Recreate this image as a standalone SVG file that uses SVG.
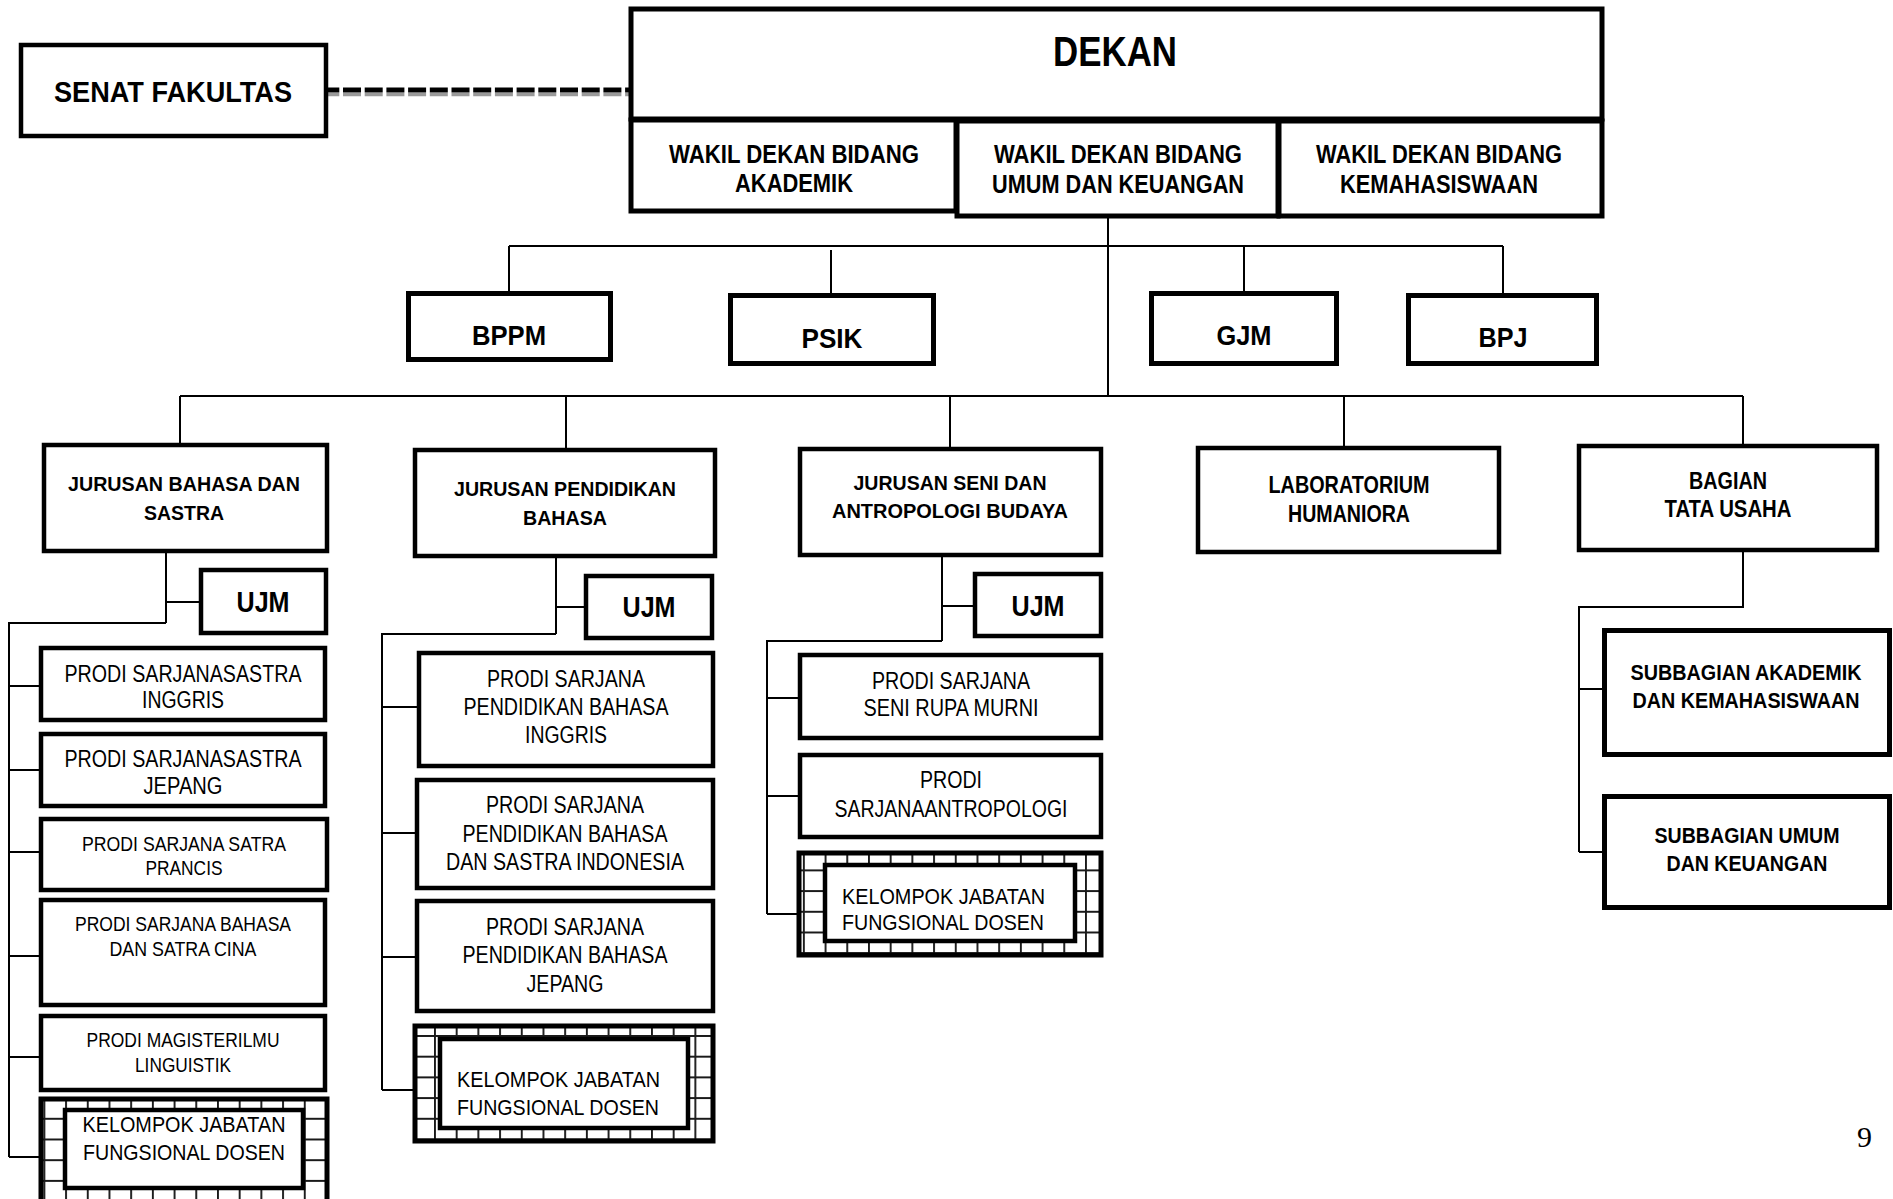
<svg xmlns="http://www.w3.org/2000/svg" width="1893" height="1199" viewBox="0 0 1893 1199">
<style>
.box{fill:#fff;stroke:#000;stroke-width:4.5}
.bx5{fill:#fff;stroke:#000;stroke-width:5}
.grid{fill:url(#grid);stroke:#000;stroke-width:5}
.ln{fill:none;stroke:#000;stroke-width:2}
text{font-family:"Liberation Sans",Arial,sans-serif;fill:#000}
.b{font-weight:bold;text-anchor:middle}
.r{font-weight:normal;text-anchor:middle}
.s{font-weight:normal;text-anchor:start}
</style>
<defs>
<pattern id="grid" patternUnits="userSpaceOnUse" width="21.7" height="20.7">
<rect width="21.7" height="20.7" fill="#fff"/>
<path d="M0 0.9H21.7M0.9 0V20.7" stroke="#1a1a1a" stroke-width="2"/>
</pattern>
</defs>
<rect width="1893" height="1199" fill="#fff"/>

<g id="connectors">
<line x1="328" y1="94.5" x2="629" y2="94.5" stroke="#9a9a9a" stroke-width="3.5" stroke-dasharray="18 3.7" stroke-dashoffset="-15"/>
<line x1="328" y1="90" x2="629" y2="90" stroke="#000" stroke-width="5" stroke-dasharray="18 3.7" stroke-dashoffset="-15"/>
<path class="ln" d="M1108 218V396M509 246H1503M509 246V293M831 250V295M1244 246V293M1503 246V295"/>
<path class="ln" d="M180 396H1743M180 396V443M566 396V448M950 396V447M1344 396V446M1743 396V463"/>
<path class="ln" d="M166 553V623M166 602H199M166 623H9V1157M9 686H39M9 770H39M9 852H39M9 956H39M9 1057H39M9 1157H39"/>
<path class="ln" d="M556 558V634M556 607H584M556 634H382V1090M382 707H417M382 833H415M382 957H415M382 1090H413"/>
<path class="ln" d="M942 550V641M942 606H973M942 641H767V914M767 698H798M767 796H798M767 914H797"/>
<path class="ln" d="M1743 552V607H1579V852M1579 689H1602M1579 852H1602"/>
</g>

<g id="senat"><rect class="box" x="21" y="45" width="305" height="91"/>
<text class="b" x="173" y="102" font-size="30" textLength="238" lengthAdjust="spacingAndGlyphs">SENAT FAKULTAS</text></g>

<g id="dekan"><rect class="bx5" x="631" y="9" width="971" height="110"/>
<text class="b" x="1115" y="66" font-size="42" textLength="124" lengthAdjust="spacingAndGlyphs">DEKAN</text></g>

<g id="wd1"><rect class="bx5" x="631" y="120" width="325" height="91"/>
<text class="b" x="794" y="163" font-size="25" textLength="250" lengthAdjust="spacingAndGlyphs">WAKIL DEKAN BIDANG</text>
<text class="b" x="794" y="192" font-size="25" textLength="118" lengthAdjust="spacingAndGlyphs">AKADEMIK</text></g>
<g id="wd2"><rect class="bx5" x="957" y="121" width="321" height="95"/>
<text class="b" x="1118" y="163" font-size="25" textLength="248" lengthAdjust="spacingAndGlyphs">WAKIL DEKAN BIDANG</text>
<text class="b" x="1118" y="193" font-size="25" textLength="252" lengthAdjust="spacingAndGlyphs">UMUM DAN KEUANGAN</text></g>
<g id="wd3"><rect class="bx5" x="1279" y="121" width="323" height="95"/>
<text class="b" x="1439" y="163" font-size="25" textLength="246" lengthAdjust="spacingAndGlyphs">WAKIL DEKAN BIDANG</text>
<text class="b" x="1439" y="193" font-size="25" textLength="198" lengthAdjust="spacingAndGlyphs">KEMAHASISWAAN</text></g>

<g id="bppm"><rect class="bx5" x="408.5" y="293.5" width="202" height="66"/>
<text class="b" x="509" y="345" font-size="28" textLength="74" lengthAdjust="spacingAndGlyphs">BPPM</text></g>
<g id="psik"><rect class="bx5" x="730.5" y="295.5" width="203" height="68"/>
<text class="b" x="832" y="348" font-size="28" textLength="61" lengthAdjust="spacingAndGlyphs">PSIK</text></g>
<g id="gjm"><rect class="bx5" x="1151.5" y="293.5" width="185" height="70"/>
<text class="b" x="1244" y="345" font-size="28" textLength="55" lengthAdjust="spacingAndGlyphs">GJM</text></g>
<g id="bpj"><rect class="bx5" x="1408.5" y="295.5" width="188" height="68"/>
<text class="b" x="1503" y="347" font-size="28" textLength="49" lengthAdjust="spacingAndGlyphs">BPJ</text></g>

<g id="jurusan1"><rect class="box" x="44" y="445" width="283" height="106"/>
<text class="b" x="184" y="491" font-size="21" textLength="232" lengthAdjust="spacingAndGlyphs">JURUSAN BAHASA DAN</text>
<text class="b" x="184" y="520" font-size="21" textLength="80" lengthAdjust="spacingAndGlyphs">SASTRA</text></g>
<g id="ujm1"><rect class="box" x="201" y="570" width="125" height="63"/>
<text class="b" x="263" y="612" font-size="30" textLength="53" lengthAdjust="spacingAndGlyphs">UJM</text></g>
<g id="prodi-inggris"><rect class="box" x="41" y="648" width="284" height="72"/>
<text class="r" x="183" y="682" font-size="23" textLength="237" lengthAdjust="spacingAndGlyphs">PRODI SARJANASASTRA</text>
<text class="r" x="183" y="708" font-size="23" textLength="82" lengthAdjust="spacingAndGlyphs">INGGRIS</text></g>
<g id="prodi-jepang"><rect class="box" x="41" y="734" width="284" height="72"/>
<text class="r" x="183" y="767" font-size="23" textLength="237" lengthAdjust="spacingAndGlyphs">PRODI SARJANASASTRA</text>
<text class="r" x="183" y="794" font-size="23" textLength="79" lengthAdjust="spacingAndGlyphs">JEPANG</text></g>
<g id="prodi-prancis"><rect class="box" x="41" y="819" width="286" height="71"/>
<text class="r" x="184" y="851" font-size="21" textLength="204" lengthAdjust="spacingAndGlyphs">PRODI SARJANA SATRA</text>
<text class="r" x="184" y="875" font-size="21" textLength="77" lengthAdjust="spacingAndGlyphs">PRANCIS</text></g>
<g id="prodi-cina"><rect class="box" x="41" y="900" width="284" height="105"/>
<text class="r" x="183" y="931" font-size="21" textLength="216" lengthAdjust="spacingAndGlyphs">PRODI SARJANA BAHASA</text>
<text class="r" x="183" y="956" font-size="21" textLength="147" lengthAdjust="spacingAndGlyphs">DAN SATRA CINA</text></g>
<g id="prodi-linguistik"><rect class="box" x="41" y="1016" width="284" height="74"/>
<text class="r" x="183" y="1047" font-size="21" textLength="193" lengthAdjust="spacingAndGlyphs">PRODI MAGISTERILMU</text>
<text class="r" x="183" y="1072" font-size="21" textLength="96" lengthAdjust="spacingAndGlyphs">LINGUISTIK</text></g>
<g id="kjf1"><rect class="grid" x="41" y="1099" width="286" height="111"/>
<rect class="box" x="65" y="1110" width="238" height="78"/>
<text class="r" x="184" y="1132" font-size="22" textLength="203" lengthAdjust="spacingAndGlyphs">KELOMPOK JABATAN</text>
<text class="r" x="184" y="1160" font-size="22" textLength="202" lengthAdjust="spacingAndGlyphs">FUNGSIONAL DOSEN</text></g>

<g id="jurusan2"><rect class="box" x="415" y="450" width="300" height="106"/>
<text class="b" x="565" y="496" font-size="21" textLength="222" lengthAdjust="spacingAndGlyphs">JURUSAN PENDIDIKAN</text>
<text class="b" x="565" y="525" font-size="21" textLength="84" lengthAdjust="spacingAndGlyphs">BAHASA</text></g>
<g id="ujm2"><rect class="box" x="586" y="576" width="126" height="62"/>
<text class="b" x="649" y="617" font-size="30" textLength="53" lengthAdjust="spacingAndGlyphs">UJM</text></g>
<g id="prodi-pbi"><rect class="box" x="419" y="653" width="294" height="113"/>
<text class="r" x="566" y="687" font-size="23" textLength="158" lengthAdjust="spacingAndGlyphs">PRODI SARJANA</text>
<text class="r" x="566" y="715" font-size="23" textLength="205" lengthAdjust="spacingAndGlyphs">PENDIDIKAN BAHASA</text>
<text class="r" x="566" y="743" font-size="23" textLength="82" lengthAdjust="spacingAndGlyphs">INGGRIS</text></g>
<g id="prodi-pbsi"><rect class="box" x="417" y="780" width="296" height="108"/>
<text class="r" x="565" y="813" font-size="23" textLength="158" lengthAdjust="spacingAndGlyphs">PRODI SARJANA</text>
<text class="r" x="565" y="842" font-size="23" textLength="205" lengthAdjust="spacingAndGlyphs">PENDIDIKAN BAHASA</text>
<text class="r" x="565" y="870" font-size="23" textLength="238" lengthAdjust="spacingAndGlyphs">DAN SASTRA INDONESIA</text></g>
<g id="prodi-pbj"><rect class="box" x="417" y="901" width="296" height="110"/>
<text class="r" x="565" y="935" font-size="23" textLength="158" lengthAdjust="spacingAndGlyphs">PRODI SARJANA</text>
<text class="r" x="565" y="963" font-size="23" textLength="205" lengthAdjust="spacingAndGlyphs">PENDIDIKAN BAHASA</text>
<text class="r" x="565" y="992" font-size="23" textLength="77" lengthAdjust="spacingAndGlyphs">JEPANG</text></g>
<g id="kjf2"><rect class="grid" x="415" y="1026" width="298" height="115"/>
<rect class="box" x="440" y="1039" width="248" height="89"/>
<text class="s" x="457" y="1087" font-size="22" textLength="203" lengthAdjust="spacingAndGlyphs">KELOMPOK JABATAN</text>
<text class="s" x="457" y="1115" font-size="22" textLength="202" lengthAdjust="spacingAndGlyphs">FUNGSIONAL DOSEN</text></g>

<g id="jurusan3"><rect class="box" x="800" y="449" width="301" height="106"/>
<text class="b" x="950" y="490" font-size="21" textLength="193" lengthAdjust="spacingAndGlyphs">JURUSAN SENI DAN</text>
<text class="b" x="950" y="518" font-size="21" textLength="236" lengthAdjust="spacingAndGlyphs">ANTROPOLOGI BUDAYA</text></g>
<g id="ujm3"><rect class="box" x="975" y="574" width="126" height="62"/>
<text class="b" x="1038" y="616" font-size="30" textLength="53" lengthAdjust="spacingAndGlyphs">UJM</text></g>
<g id="prodi-senirupa"><rect class="box" x="800" y="655" width="301" height="83"/>
<text class="r" x="951" y="689" font-size="23" textLength="158" lengthAdjust="spacingAndGlyphs">PRODI SARJANA</text>
<text class="r" x="951" y="716" font-size="23" textLength="175" lengthAdjust="spacingAndGlyphs">SENI RUPA MURNI</text></g>
<g id="prodi-antropologi"><rect class="box" x="800" y="755" width="301" height="82"/>
<text class="r" x="951" y="788" font-size="23" textLength="62" lengthAdjust="spacingAndGlyphs">PRODI</text>
<text class="r" x="951" y="817" font-size="23" textLength="233" lengthAdjust="spacingAndGlyphs">SARJANAANTROPOLOGI</text></g>
<g id="kjf3"><rect class="grid" x="799" y="853" width="302" height="102"/>
<rect class="box" x="825" y="865" width="250" height="76"/>
<text class="s" x="842" y="904" font-size="22" textLength="203" lengthAdjust="spacingAndGlyphs">KELOMPOK JABATAN</text>
<text class="s" x="842" y="930" font-size="22" textLength="202" lengthAdjust="spacingAndGlyphs">FUNGSIONAL DOSEN</text></g>

<g id="laboratorium"><rect class="box" x="1198" y="448" width="301" height="104"/>
<text class="b" x="1349" y="493" font-size="23" textLength="161" lengthAdjust="spacingAndGlyphs">LABORATORIUM</text>
<text class="b" x="1349" y="522" font-size="23" textLength="122" lengthAdjust="spacingAndGlyphs">HUMANIORA</text></g>
<g id="bagian-tu"><rect class="box" x="1579" y="446" width="298" height="104"/>
<text class="b" x="1728" y="489" font-size="23" textLength="78" lengthAdjust="spacingAndGlyphs">BAGIAN</text>
<text class="b" x="1728" y="517" font-size="23" textLength="127" lengthAdjust="spacingAndGlyphs">TATA USAHA</text></g>
<g id="sub-akademik"><rect class="bx5" x="1604.5" y="630.5" width="285" height="124"/>
<text class="b" x="1746" y="680" font-size="22.5" textLength="231" lengthAdjust="spacingAndGlyphs">SUBBAGIAN AKADEMIK</text>
<text class="b" x="1746" y="708" font-size="22.5" textLength="227" lengthAdjust="spacingAndGlyphs">DAN KEMAHASISWAAN</text></g>
<g id="sub-umum"><rect class="bx5" x="1604.5" y="796.5" width="285" height="111"/>
<text class="b" x="1747" y="843" font-size="22.5" textLength="185" lengthAdjust="spacingAndGlyphs">SUBBAGIAN UMUM</text>
<text class="b" x="1747" y="871" font-size="22.5" textLength="161" lengthAdjust="spacingAndGlyphs">DAN KEUANGAN</text></g>

<text x="1857" y="1147" style="font-family:'Liberation Serif',serif" font-size="30">9</text>
</svg>
